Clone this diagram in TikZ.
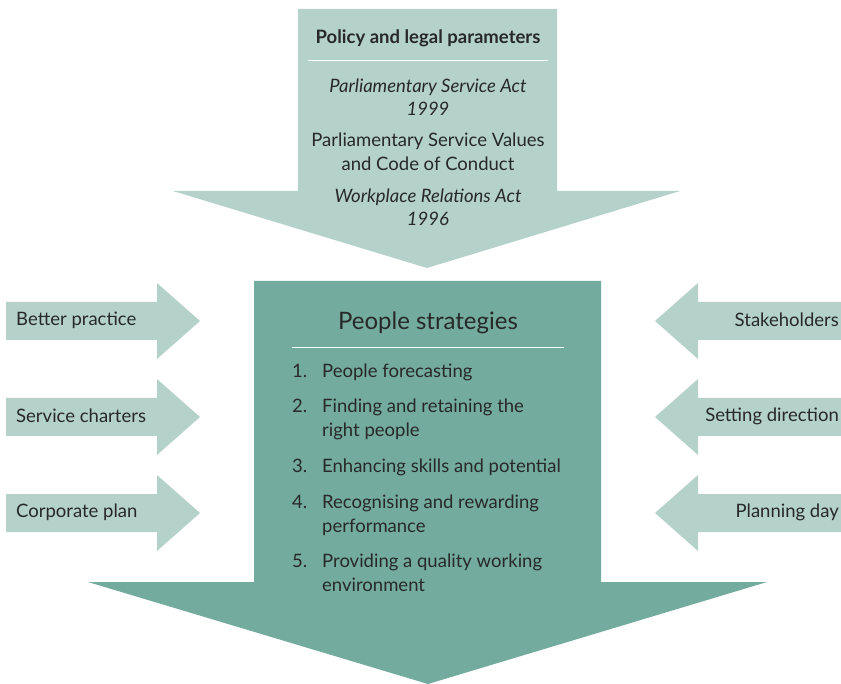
\documentclass[tikz,border=0pt]{standalone}
\usepackage{fontspec}
\setmainfont{Lato}
\definecolor{lightteal}{RGB}{180,210,202}
\definecolor{darkteal}{RGB}{115,172,159}
\definecolor{lettercolor}{RGB}{40,40,40}
\usetikzlibrary{positioning}
\tikzset{
	lightarrow/.style={
		fill=lightteal
	},
	darkarrow/.style={
		fill=darkteal
	},
	txt/.style={
		text=lettercolor,
		inner sep=0pt,
		font=\fontsize{18.5}{24}\selectfont
	},
	head/.style={
		txt,
		font=\fontsize{18.5}{24}\selectfont\bfseries
	},
	bighead/.style={
		txt,
		font=\fontsize{24}{28}\selectfont
	},
	item/.style={
		txt,
		anchor=north west,
		align=left
	},
	rule/.style={
		draw=white,
		line width=1pt
	},
}

\begin{document}
\begin{tikzpicture}[x=1pt,y=-1pt]
\useasboundingbox (0,0) rectangle (841,684);
% arrows
\path[lightarrow] (298,9) -- (557,9) -- (557,191) -- (680,191) -- (427,268)
	-- (173,191) -- (298,191) -- cycle;
\path[darkarrow] (254,281) -- (601,281) -- (601,582) -- (767,582) -- (428,684)
	-- (88,582) -- (254,582) -- cycle;
\path[lightarrow] (6,302) -- (157,302) -- (157,283) -- (200,321) -- (157,359) -- (157,340) -- (6,340) -- cycle;
\path[lightarrow] (6,398) -- (157,398) -- (157,379) -- (200,417) -- (157,455) -- (157,436) -- (6,436) -- cycle;
\path[lightarrow] (6,494) -- (157,494) -- (157,475) -- (200,513) -- (157,551) -- (157,532) -- (6,532) -- cycle;
\path[lightarrow] (841,302) -- (698,302) -- (698,283) -- (655,321) -- (698,359) -- (698,340) -- (841,340) -- cycle;
\path[lightarrow] (841,398) -- (698,398) -- (698,379) -- (655,417) -- (698,455) -- (698,436) -- (841,436) -- cycle;
\path[lightarrow] (841,494) -- (698,494) -- (698,475) -- (655,513) -- (698,551) -- (698,532) -- (841,532) -- cycle;
% policy
\node[head] (policy) at (428,38) {Policy and legal parameters};
\draw[rule] (308,61) -- (548,61);
\node[txt,align=center,font=\fontsize{18.5}{23}\selectfont\itshape] (psact) at (428,97) {Parliamentary Service Act\\1999};
\node[txt,align=center] (values) at (428,152) {Parliamentary Service Values\\and Code of Conduct};
\node[txt,align=center,font=\fontsize{18.5}{23}\selectfont\itshape] (wract) at (428,207) {Workplace Relations Act\\1996};
% people strategies
\node[bighead] (people) at (428,323) {People strategies};
\draw[rule] (292,348) -- (564,348);
\node[item] (n1) at (292,361) {\strut 1.};
\node[item] (s1) at (322,361) {\strut People forecasting};
\node[item] (n2) at (292,396) {\strut 2.};
\node[item] (s2) at (322,396) {\strut Finding and retaining the\\right people};
\node[item] (n3) at (292,455) {\strut 3.};
\node[item] (s3) at (322,455) {\strut Enhancing skills and potential};
\node[item] (n4) at (292,491) {\strut 4.};
\node[item] (s4) at (322,491) {\strut Recognising and rewarding\\performance};
\node[item] (n5) at (292,550) {\strut 5.};
\node[item] (s5) at (322,550) {\strut Providing a quality working\\environment};
% side inputs
\node[txt,anchor=west] (better) at (16,320) {Better practice};
\node[txt,anchor=west] (charters) at (16,416) {Service charters};
\node[txt,anchor=west] (corporate) at (16,512) {Corporate plan};
\node[txt,anchor=east] (stake) at (839,320) {Stakeholders};
\node[txt,anchor=east] (direction) at (839,416) {Setting direction};
\node[txt,anchor=east] (planning) at (839,512) {Planning day};
\end{tikzpicture}
\end{document}
